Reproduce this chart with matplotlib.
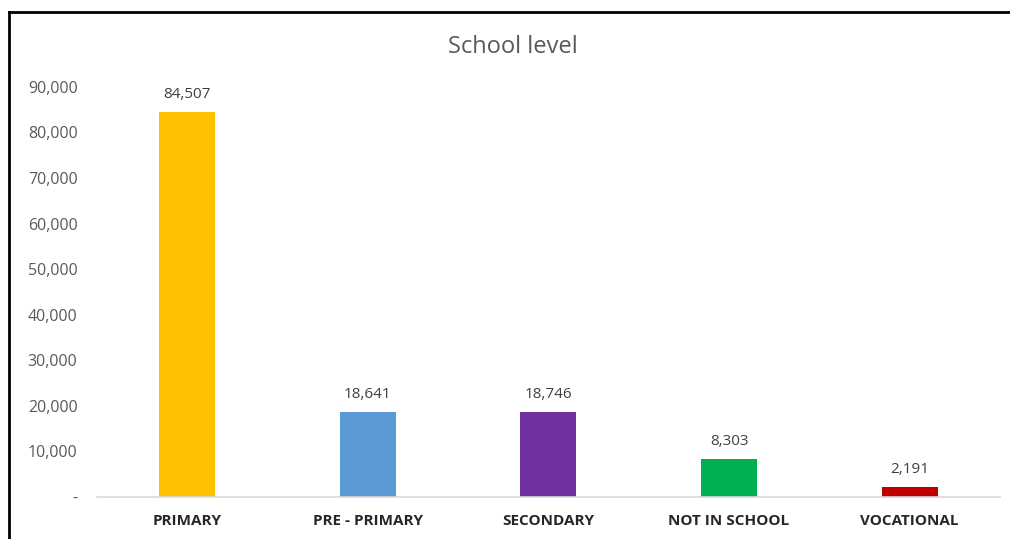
import matplotlib
matplotlib.use("Agg")
import matplotlib.pyplot as plt
from matplotlib.lines import Line2D

categories = ["PRIMARY", "PRE - PRIMARY", "SECONDARY", "NOT IN SCHOOL", "VOCATIONAL"]
values = [84507, 18641, 18746, 8303, 2191]
colors = ["#FFC000", "#5B9BD5", "#7030A0", "#00B050", "#C00000"]
yticks = [0, 10000, 20000, 30000, 40000, 50000, 60000, 70000, 80000, 90000]

plt.rcParams["font.family"] = ["Open Sans", "DejaVu Sans"]

fig = plt.figure(figsize=(10.1, 5.39), dpi=100)
ax = fig.add_axes([0.096, 0.078, 0.894, 0.7608])

x = range(len(categories))
bars = ax.bar(x, values, width=0.31, color=colors)
for b, v in zip(bars, values):
    ax.annotate(f"{v:,}", (b.get_x() + b.get_width() / 2, v),
                xytext=(0, 7), textcoords="offset points",
                ha="center", va="bottom", fontsize=11, color="#404040")

ax.set_xlim(-0.5, len(categories) - 0.5)
ax.set_ylim(0, 90000)
ax.set_yticks(yticks)
ax.set_yticklabels(["-" if t == 0 else f"{t:,}" for t in yticks])
ax.set_xticks(list(x))
ax.set_xticklabels(categories, fontweight="bold")
ax.tick_params(axis="y", length=0, pad=14, labelsize=11.5, labelcolor="#595959")
ax.tick_params(axis="x", length=0, pad=12, labelsize=11, labelcolor="#262626")
for s in ["top", "right", "left"]:
    ax.spines[s].set_visible(False)
ax.spines["bottom"].set_color("#D9D9D9")
ax.spines["bottom"].set_linewidth(1.2)

fig.text(0.508, 0.913, "School level", ha="center", va="center",
         fontsize=17, color="#595959")

# outer frame (top and left edges visible in the crop)
fig.add_artist(Line2D([0.009, 1.0], [0.978, 0.978], color="black", lw=2,
                      transform=fig.transFigure))
fig.add_artist(Line2D([0.009, 0.009], [0.0, 0.978], color="black", lw=2,
                      transform=fig.transFigure))

fig.savefig("out.png", dpi=100)
